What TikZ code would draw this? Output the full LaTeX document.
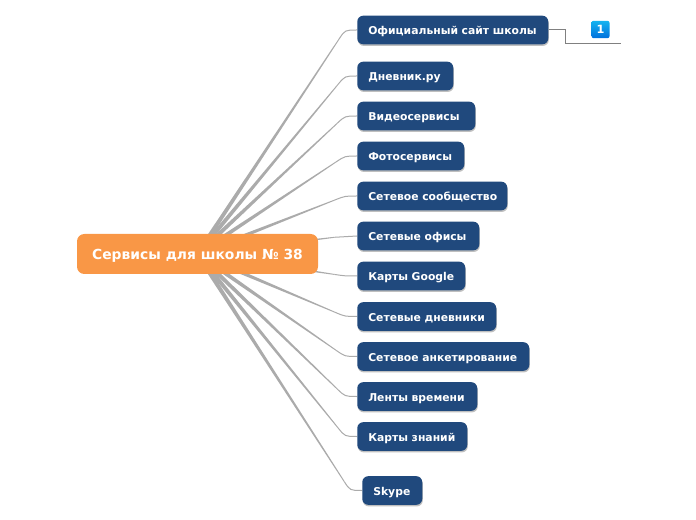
\documentclass[tikz,border=0pt]{standalone}
\usepackage{fontspec}
\setmainfont{DejaVu Sans}
\usetikzlibrary{calc,shadows,backgrounds}
\definecolor{rootorange}{HTML}{F99746}
\definecolor{childblue}{HTML}{20497D}
\definecolor{branchgray}{HTML}{ABABAB}
\definecolor{notegray}{HTML}{808080}
\definecolor{badgetop}{HTML}{14B4F0}
\definecolor{badgebottom}{HTML}{0070DC}
\tikzset{
  rootbox/.style={fill=rootorange,text=white,rounded corners=5.5pt,font=\bfseries\fontsize{10.4}{12}\selectfont,
    minimum width=180.75pt,minimum height=30pt,inner sep=0pt,text height=8.2pt,text depth=0pt},
  childbox/.style={anchor=west,fill=childblue,text=white,rounded corners=4.5pt,font=\bfseries\fontsize{8.1}{10}\selectfont,
    minimum height=21.5pt,inner xsep=8.25pt,inner ysep=0pt,align=left,text height=6.8pt,text depth=0pt,
    drop shadow={shadow xshift=0.4pt,shadow yshift=-1.2pt,opacity=0.25,fill=black}},
  branchline/.style={draw=branchgray,line width=0.75pt},
  notelink/.style={draw=notegray,line width=0.75pt},
  badge/.style={rounded corners=1.5pt,top color=badgetop,bottom color=badgebottom,text=white,
    font=\bfseries\fontsize{8.5}{10}\selectfont,minimum width=13.5pt,minimum height=13pt,inner sep=0pt}
}
\begin{document}
\begin{tikzpicture}[x=0.75pt,y=-0.75pt]
\useasboundingbox (0,0) rectangle (696,520);
\node[rootbox] (root) at (197.5,254) {Сервисы для школы № 38};
\foreach \name/\xpos/\ypos/\boxw/\txt in {site/357/30/191/Официальный сайт школы,diary/357/76/96/Дневник.ру,video/357/116/118/Видеосервисы,
  photo/357/156/107/Фотосервисы,community/357/196/150/Сетевое сообщество,office/357/236/122/Сетевые офисы,
  maps/357/276/108/Карты Google,blogs/357/316.5/139/Сетевые дневники,survey/357/356.5/172/Сетевое анкетирование,
  timeline/357/396.5/120/Ленты времени,knowledge/357/436.5/110/Карты знаний,skype/362/490.5/60/Skype}
  \node[childbox,text width={(\boxw-22)*0.75pt}] (\name) at (\xpos,\ypos) {\mbox{\txt}};
\begin{scope}[on background layer]
\foreach \name in {site,diary,video,photo,community,office,maps,blogs,survey,timeline,knowledge,skype} {
  \coordinate (bend) at ($(\name.west)+(-12,0)$);
  \coordinate (knee) at ($(bend)!8pt!(root.center)$);
  \fill[branchgray] ($(root.center)!1.7pt!90:(knee)$) -- ($(knee)!0.35pt!-90:(root.center)$)
    -- ($(knee)!0.35pt!90:(root.center)$) -- ($(root.center)!1.7pt!-90:(knee)$) -- cycle;
  \draw[branchline] (knee) .. controls (bend) .. (\name.west);
}
\end{scope}
\coordinate (notebend) at (565,30);
\coordinate (noteend) at (621,43.5);
\draw[notelink] (site.east) -- (notebend) |- (noteend);
\node[badge] (note) at (600.5,29.5) {1};
\end{tikzpicture}
\end{document}
